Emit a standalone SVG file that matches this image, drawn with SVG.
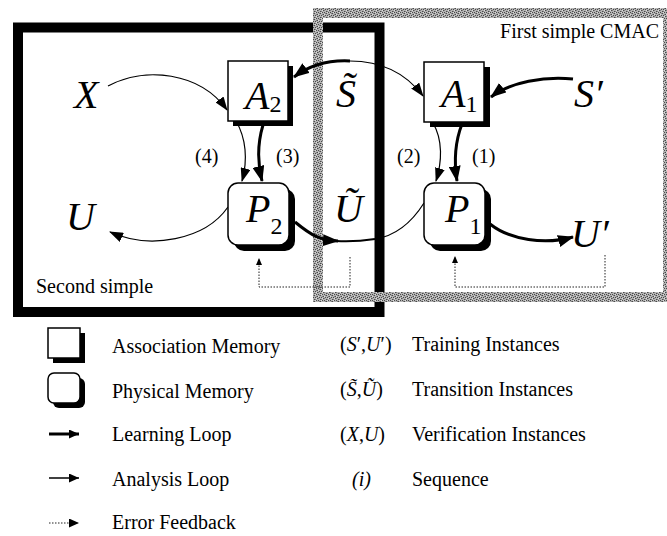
<svg xmlns="http://www.w3.org/2000/svg" width="667" height="536" viewBox="0 0 667 536">
  <style>
    text { font-family: "Liberation Serif", "Times New Roman", serif; fill: #000; }
    .lbl { font-size: 20px; }
    .var { font-size: 40px; font-style: italic; }
    .sub { font-size: 24px; font-style: normal; }
    .box { fill: #fff; stroke: #000; stroke-width: 1.5; }
    .shadow { fill: #000; }
    .thin { fill: none; stroke: #000; stroke-width: 1.2; }
    .thick { fill: none; stroke: #000; stroke-width: 3; }
    .dot { fill: none; stroke: #222; stroke-width: 1; stroke-dasharray: 1.5 1.5; }
  </style>
  <defs>
    <!-- grainy grey used for the outer CMAC frame -->
    <pattern id="halftone" width="6" height="6" patternUnits="userSpaceOnUse">
      <rect width="6" height="6" fill="#b4b4b4"/>
      <g fill="#4a4a4a">
        <rect x="0" y="0" width="1" height="1"/>
        <rect x="4" y="0" width="1" height="1"/>
        <rect x="2" y="1" width="1" height="1"/>
        <rect x="5" y="2" width="1" height="1"/>
        <rect x="1" y="3" width="1" height="1"/>
        <rect x="3" y="3" width="1" height="1"/>
        <rect x="5" y="4" width="1" height="1"/>
        <rect x="2" y="5" width="1" height="1"/>
      </g>
      <g fill="#7e7e7e">
        <rect x="1" y="1" width="1" height="1"/>
        <rect x="4" y="2" width="1" height="1"/>
        <rect x="0" y="4" width="1" height="1"/>
        <rect x="3" y="5" width="1" height="1"/>
      </g>
      <g fill="#dcdcdc">
        <rect x="3" y="0" width="1" height="1"/>
        <rect x="0" y="2" width="1" height="1"/>
        <rect x="4" y="4" width="1" height="1"/>
      </g>
    </pattern>
    <marker id="arrowA" viewBox="0 0 14 10" refX="13" refY="5" markerWidth="14" markerHeight="10" markerUnits="userSpaceOnUse" orient="auto">
      <path d="M0,0 L14,5 L0,10 z" fill="#000"/>
    </marker>
    <marker id="arrowB" viewBox="0 0 16 12" refX="15" refY="6" markerWidth="16" markerHeight="12" markerUnits="userSpaceOnUse" orient="auto">
      <path d="M0,0 L16,6 L0,12 z" fill="#000"/>
    </marker>
    <marker id="arrowS" viewBox="0 0 7 6" refX="7" refY="3" markerWidth="7" markerHeight="6" markerUnits="userSpaceOnUse" orient="auto">
      <path d="M0,0 L7,3 L0,6 z" fill="#000"/>
    </marker>
    <marker id="arrowL" viewBox="0 0 10 9" refX="10" refY="4.5" markerWidth="10" markerHeight="9" markerUnits="userSpaceOnUse" orient="auto">
      <path d="M0,0 L10,4.5 L0,9 z" fill="#000"/>
    </marker>
  </defs>

  <rect width="667" height="536" fill="#fff"/>

  <!-- second simple CMAC (black frame) -->
  <g id="frame-second">
    <rect x="18" y="27.5" width="361.5" height="284.5" fill="none" stroke="#000" stroke-width="10"/>
    <text class="lbl" x="36" y="293">Second simple</text>
  </g>

  <!-- first simple CMAC (grey frame), drawn over the black one -->
  <g id="frame-first">
    <rect x="318" y="13" width="350" height="284" fill="none" stroke="url(#halftone)" stroke-width="10"/>
    <text class="lbl" x="659" y="38" text-anchor="end" font-size="22">First simple CMAC</text>
  </g>

  <!-- connectors -->
  <g id="connectors">
    <!-- X to A2 -->
    <path class="thin" d="M108,86 C145,66 200,72 227,110" marker-end="url(#arrowA)"/>
    <!-- (4) and (3): A2 to P2 -->
    <path class="thin" d="M236,121 C246,138 248,160 242,181" marker-end="url(#arrowA)"/>
    <path class="thick" d="M263,125 C257,145 258,165 262,181" marker-end="url(#arrowB)"/>
    <!-- P2 to U -->
    <path class="thin" d="M228,207 C205,240 150,250 110,232" marker-end="url(#arrowA)"/>
    <!-- P2 to U tilde -->
    <path class="thick" d="M295,222 C312,236 320,240 338,241" marker-end="url(#arrowB)"/>
    <path fill="none" stroke="#000" stroke-width="2" d="M336,241 C352,242 362,241 375,239"/>
    <!-- P1 back to U tilde -->
    <path class="thin" d="M375,239 C395,236 412,222 424,203"/>
    <!-- S tilde: into A2 (learning) and into A1 (analysis) -->
    <path class="thick" d="M350,61 C330,60 310,65 294,77" marker-end="url(#arrowB)"/>
    <path class="thin" d="M350,61 C380,61 405,72 423,96" marker-end="url(#arrowA)"/>
    <!-- S' to A1 -->
    <path class="thick" d="M573,79 C545,76 510,82 491,97" marker-end="url(#arrowB)"/>
    <!-- (2) and (1): A1 to P1 -->
    <path class="thin" d="M433,123 C443,140 442,162 436,181" marker-end="url(#arrowA)"/>
    <path class="thick" d="M462,124 C455,142 454,162 457,181" marker-end="url(#arrowB)"/>
    <!-- P1 to U' -->
    <path class="thick" d="M490,224 C510,240 545,245 573,237" marker-end="url(#arrowB)"/>
    <!-- error feedback loops -->
    <path class="dot" d="M605,255 V287 H455 V256" marker-end="url(#arrowS)"/>
    <path class="dot" d="M350,257 V287 H259 V258" marker-end="url(#arrowS)"/>
  </g>

  <!-- sequence numbers -->
  <g id="sequence-labels">
    <text class="lbl" x="195" y="163">(4)</text>
    <text class="lbl" x="276" y="163">(3)</text>
    <text class="lbl" x="397" y="163">(2)</text>
    <text class="lbl" x="472" y="163">(1)</text>
  </g>

  <!-- association memories -->
  <g id="node-A2">
    <rect class="shadow" x="233" y="66" width="60" height="60"/>
    <rect class="box" x="228" y="61" width="60" height="60"/>
    <text class="var" x="245" y="109">A<tspan class="sub" dy="3">2</tspan></text>
  </g>
  <g id="node-A1">
    <rect class="shadow" x="430" y="67" width="60" height="60"/>
    <rect class="box" x="424" y="62" width="60" height="60"/>
    <text class="var" x="441" y="107">A<tspan class="sub" dy="5">1</tspan></text>
  </g>

  <!-- physical memories -->
  <g id="node-P2">
    <rect class="shadow" x="234" y="189" width="61" height="62" rx="10"/>
    <rect class="box" x="228" y="183" width="61" height="62" rx="10"/>
    <text class="var" x="246" y="222">P<tspan class="sub" dy="12">2</tspan></text>
  </g>
  <g id="node-P1">
    <rect class="shadow" x="430" y="189" width="61" height="62" rx="10"/>
    <rect class="box" x="424" y="183" width="61" height="62" rx="10"/>
    <text class="var" x="445" y="222">P<tspan class="sub" dy="12">1</tspan></text>
  </g>

  <!-- instance variables -->
  <g id="node-X"><text class="var" x="74" y="108">X</text></g>
  <g id="node-U"><text class="var" x="66" y="230">U</text></g>
  <g id="node-S-tilde"><text class="var" x="336" y="107">S&#x303;</text></g>
  <g id="node-U-tilde"><text class="var" x="334" y="222">U&#x303;</text></g>
  <g id="node-S-prime"><text class="var" x="574" y="107">S′</text></g>
  <g id="node-U-prime"><text class="var" x="571" y="247">U′</text></g>

  <!-- legend -->
  <g id="legend">
    <rect class="shadow" x="53" y="333" width="32" height="30"/>
    <rect class="box" x="48" y="328" width="32" height="30"/>
    <rect class="shadow" x="53" y="378" width="32" height="30" rx="6"/>
    <rect class="box" x="48" y="373" width="32" height="30" rx="6"/>
    <path d="M49,434 H79" stroke="#000" stroke-width="3" marker-end="url(#arrowL)"/>
    <path d="M49,478 H79" stroke="#000" stroke-width="1.5" marker-end="url(#arrowL)"/>
    <path class="dot" d="M49,523 H79" marker-end="url(#arrowL)"/>
    <text class="lbl" x="112" y="353">Association Memory</text>
    <text class="lbl" x="112" y="398">Physical Memory</text>
    <text class="lbl" x="112" y="441">Learning Loop</text>
    <text class="lbl" x="112" y="486">Analysis Loop</text>
    <text class="lbl" x="112" y="529">Error Feedback</text>

    <text class="lbl" x="340" y="351">(<tspan font-style="italic">S</tspan>′,<tspan font-style="italic">U</tspan>′)</text>
    <text class="lbl" x="340" y="396">(<tspan font-style="italic">S&#x303;</tspan>,<tspan font-style="italic">U&#x303;</tspan>)</text>
    <text class="lbl" x="340" y="441">(<tspan font-style="italic">X</tspan>,<tspan font-style="italic">U</tspan>)</text>
    <text class="lbl" x="352" y="486" font-style="italic">(i)</text>
    <text class="lbl" x="412" y="351">Training Instances</text>
    <text class="lbl" x="412" y="396">Transition Instances</text>
    <text class="lbl" x="412" y="441">Verification Instances</text>
    <text class="lbl" x="412" y="486">Sequence</text>
  </g>
</svg>
